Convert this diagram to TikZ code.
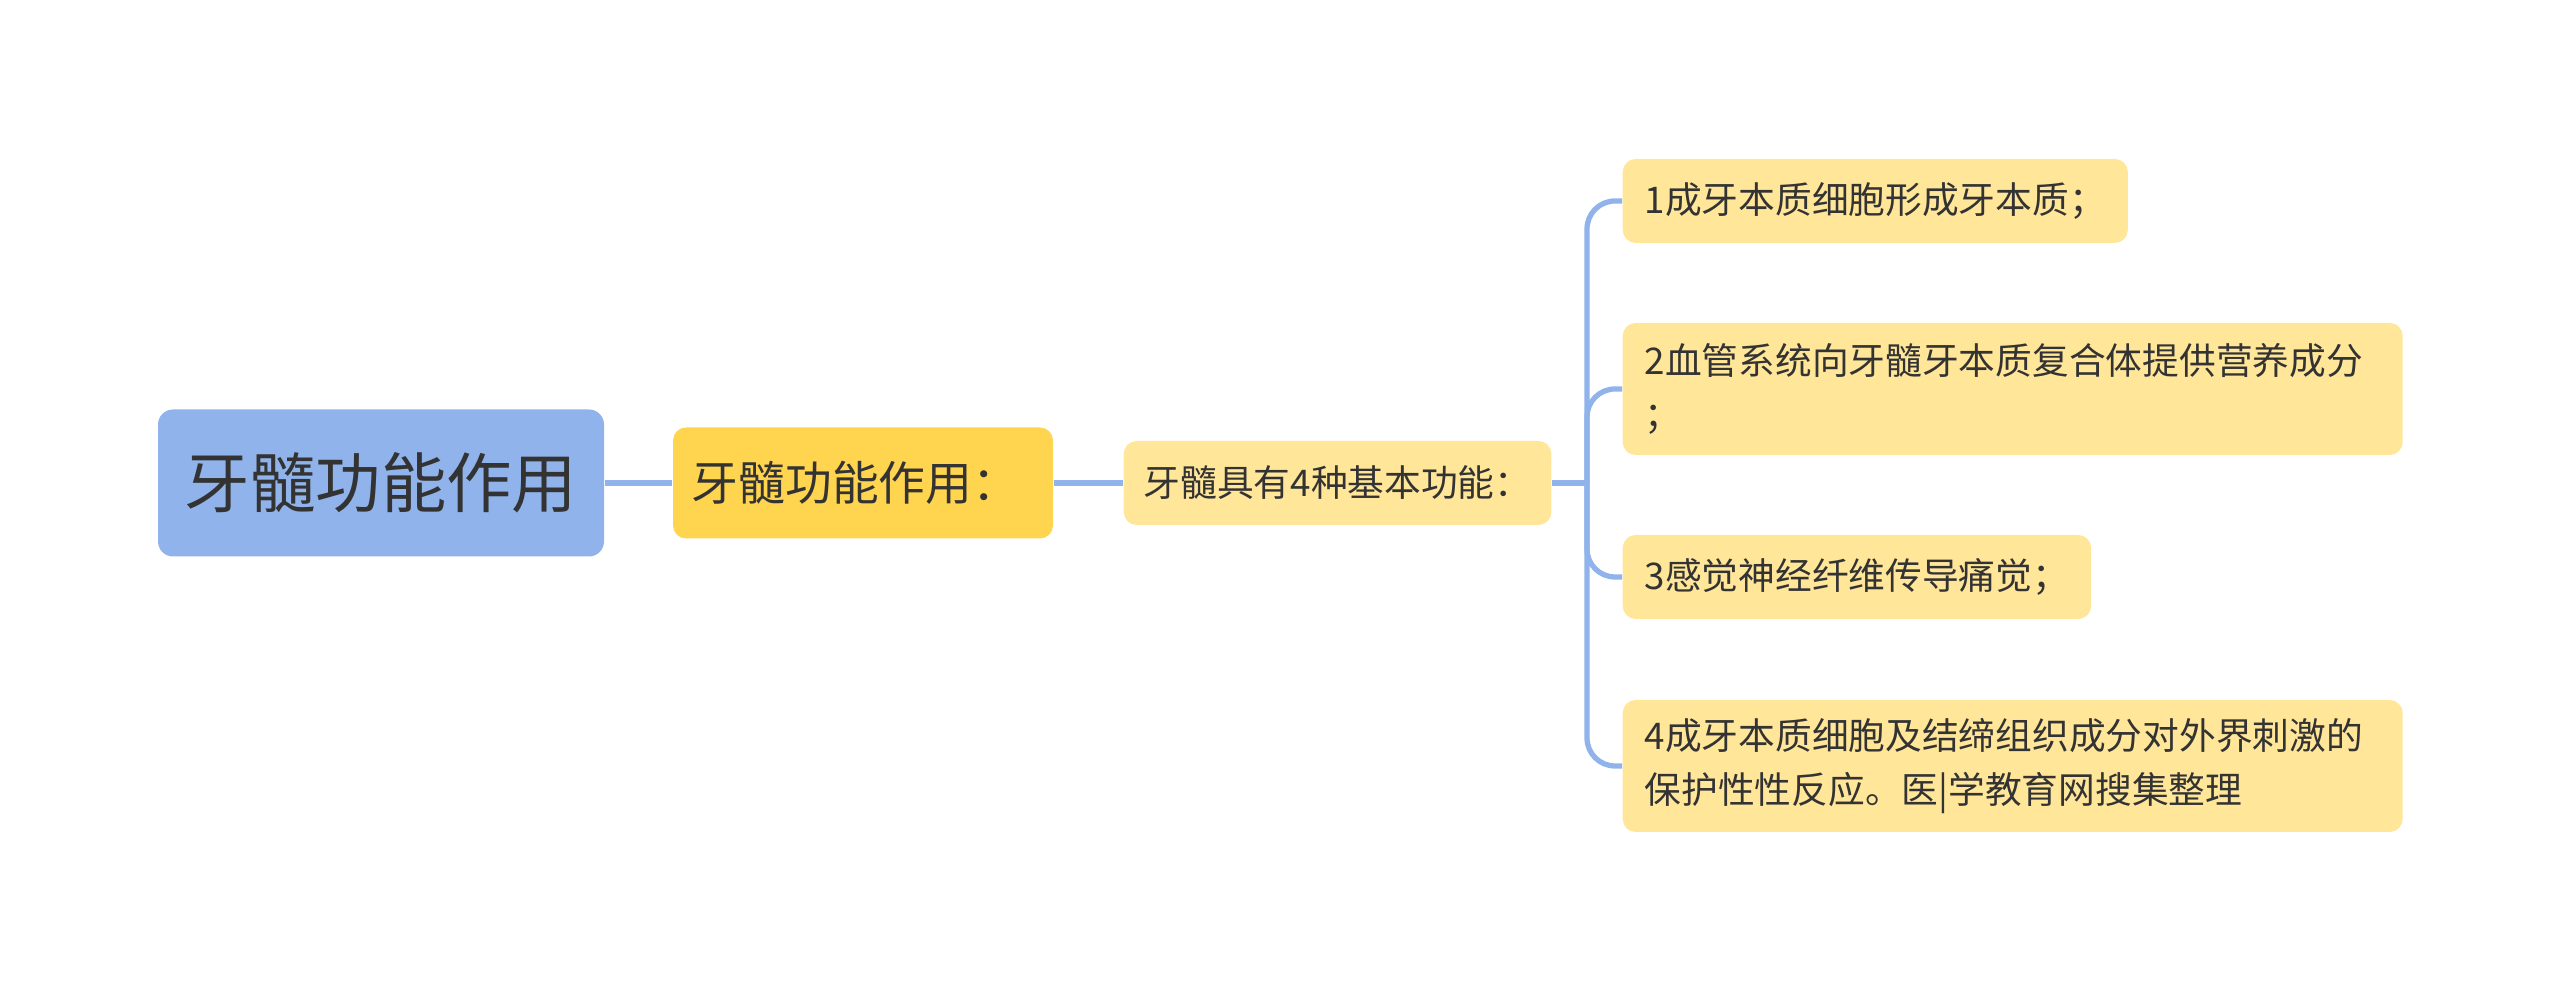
\documentclass[tikz,border=0pt]{standalone}
\usepackage{fontspec}
\setmainfont{Noto Sans CJK SC}
\usepackage{tikz}

\definecolor{rootblue}{HTML}{8FB3EA}
\definecolor{linkblue}{HTML}{8FB3EA}
\definecolor{gold}{HTML}{FFD44F}
\definecolor{paleyellow}{HTML}{FFE699}
\definecolor{inkgray}{HTML}{333333}

\begin{document}
\begin{tikzpicture}[x=1cm,y=1cm,
    every node/.style={text=inkgray,inner ysep=0pt},
    rootbox/.style={rectangle,rounded corners=0.15cm,fill=rootblue,minimum width=4.46cm,minimum height=1.47cm,font=\fontsize{18.6pt}{22pt}\selectfont},
    subbox/.style={rectangle,rounded corners=0.13cm,fill=gold,minimum width=3.80cm,minimum height=1.11cm,font=\fontsize{13.3pt}{16pt}\selectfont},
    leafbox/.style={rectangle,rounded corners=0.13cm,fill=paleyellow,inner xsep=0.22cm,minimum height=0.84cm,anchor=west,font=\fontsize{10.45pt}{15.4pt}\selectfont},
    link/.style={draw=linkblue,line width=1.5pt}]
  \useasboundingbox (0,0) rectangle (25.6,9.91);

  \node[rootbox] (root) at (3.81,5.08) {牙髓功能作用};
  \node[subbox] (sub) at (8.63,5.08) {牙髓功能作用：\hspace*{0.15cm}};
  \node[leafbox,inner xsep=0.2cm] (basic) at (11.23,5.08) {牙髓具有4种基本功能：};
  \coordinate (trunk) at (15.87,5.08);

  \node[leafbox] (f1) at (16.22,7.90) {1成牙本质细胞形成牙本质；};
  \node[leafbox,text width=7.36cm,align=left,minimum height=1.32cm] (f2) at (16.22,6.02)
    {2血管系统向牙髓牙本质复合体提供营养成分\\；};
  \node[leafbox] (f3) at (16.22,4.14) {3感觉神经纤维传导痛觉；};
  \node[leafbox,text width=7.36cm,align=left,minimum height=1.32cm] (f4) at (16.22,2.25)
    {4成牙本质细胞及结缔组织成分对外界刺激的\\保护性性反应。医|学教育网搜集整理};

  \draw[link] (root.east) -- (sub.west);
  \draw[link] (sub.east) -- (basic.west);
  \draw[link] (basic.east) -- (trunk);
  \foreach \leaf in {f1,f2,f3,f4}
    \draw[link,rounded corners=0.28cm] (trunk) |- (\leaf.west);

\end{tikzpicture}
\end{document}
